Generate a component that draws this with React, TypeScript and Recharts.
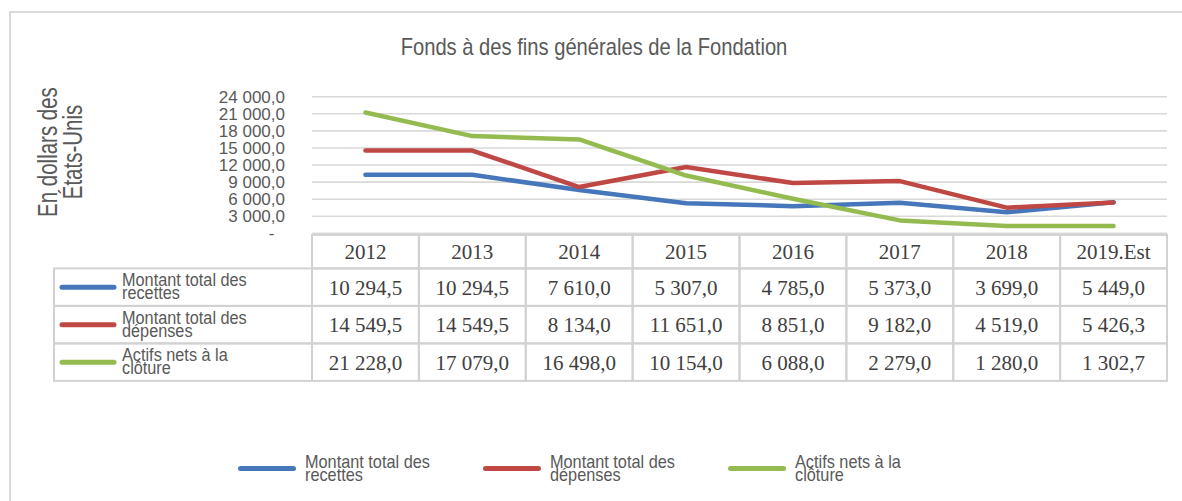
import { CartesianGrid, Legend, Line, LineChart, XAxis, YAxis } from "recharts";

const years = ["2012", "2013", "2014", "2015", "2016", "2017", "2018", "2019.Est"];
const recettes = [10294.5, 10294.5, 7610, 5307, 4785, 5373, 3699, 5449];
const depenses = [14549.5, 14549.5, 8134, 11651, 8851, 9182, 4519, 5426.3];
const actifs = [21228, 17079, 16498, 10154, 6088, 2279, 1280, 1302.7];

const seriesKeys = ["recettes", "depenses", "actifs"];
const seriesNames = [
  "Montant total des recettes",
  "Montant total des dépenses",
  "Actifs nets à la clôture",
];
const seriesColors = ["#4677BB", "#BF4845", "#94BB50"];
const seriesValues = [recettes, depenses, actifs];

const yTicks = [0, 3000, 6000, 9000, 12000, 15000, 18000, 21000, 24000];

const title = "Fonds à des fins générales de la Fondation";
const yLabel = ["En dollars des", "États-Unis"];

const data = years.map((year, i) => ({
  year,
  recettes: recettes[i],
  depenses: depenses[i],
  actifs: actifs[i],
}));

const W = 1182;
const H = 501;
const PLOT_LEFT = 312;
const PLOT_RIGHT = 1167;
const COL_W = (PLOT_RIGHT - PLOT_LEFT) / years.length;
const SANS = '"Liberation Sans", Arial, sans-serif';
const SERIF = '"Liberation Serif", "Times New Roman", serif';
const GRID = "#d9d9d9";
const BORDER = "#d2d2d2";
const TEXT = "#595959";
const NUM = "#404040";

// 10294.5 -> "10 294,5"
function fmtFr(v: number, sep = "\u00a0") {
  const [int, dec] = v.toFixed(1).split(".");
  return int.replace(/\B(?=(\d{3})+(?!\d))/g, sep) + "," + dec;
}

// "Montant total des recettes" -> ["Montant total des", "recettes"]
function wrapName(name: string) {
  const k = name.lastIndexOf(" ");
  return [name.slice(0, k), name.slice(k + 1)];
}

function YTick(props: any) {
  const { x, y, payload } = props;
  const v = payload.value;
  if (v === 0) {
    return (
      <text x={x - 13.5} y={y + 6} textAnchor="middle" fontSize={17} fontFamily={SANS} fill={TEXT}>
        -
      </text>
    );
  }
  return (
    <text x={x} y={y + 6} textAnchor="end" fontSize={17} fontFamily={SANS} fill={TEXT}>
      {fmtFr(v, " ")}
    </text>
  );
}

function YLabel(props: any) {
  const vb = props.viewBox || { x: 0, y: 96.7, height: 136.7 };
  const cy = vb.y + vb.height / 2 - 13;
  return (
    <text
      transform={`translate(${vb.x + 57},${cy}) rotate(-90) scale(0.745,1)`}
      textAnchor="middle"
      fontSize={27.5}
      fontFamily={SANS}
      fill={TEXT}
    >
      <tspan x={0} y={0}>{yLabel[0]}</tspan>
      <tspan x={0} y={25}>{yLabel[1]}</tspan>
    </text>
  );
}

const HEAD_H = 33.5;
const ROW_H = 37.5;

function LegendLabel({ x, y, name }: { x: number; y: number; name: string }) {
  const [a, b] = wrapName(name);
  return (
    <text
      transform={`translate(${x},${y}) scale(0.88,1)`}
      fontSize={18.5}
      fontFamily={SANS}
      fill={TEXT}
    >
      <tspan x={0} y={0}>{a}</tspan>
      <tspan x={0} y={13}>{b}</tspan>
    </text>
  );
}

// each x tick draws one column of the data table under the plot
function TableColumn(props: any) {
  const { x, y, payload } = props;
  const i = props.index ?? payload.index ?? years.indexOf(payload.value);
  const left = x - COL_W / 2;
  const top = y + 1.5;
  const rowsTop = top + HEAD_H;
  return (
    <g>
      <rect x={left} y={top} width={COL_W} height={HEAD_H} fill="none" stroke={BORDER} strokeWidth={2} />
      <text x={x} y={top + 24} textAnchor="middle" fontSize={21} fontFamily={SERIF} fill={NUM}>
        {payload.value}
      </text>
      {seriesValues.map((vals, r) => {
        const ry = rowsTop + r * ROW_H;
        return (
          <g key={r}>
            <rect x={left} y={ry} width={COL_W} height={ROW_H} fill="none" stroke={BORDER} strokeWidth={2} />
            <text
              x={x}
              y={ry + ROW_H / 2 + 7.5}
              textAnchor="middle"
              fontSize={21}
              fontFamily={SERIF}
              fill={NUM}
            >
              {fmtFr(vals[i])}
            </text>
          </g>
        );
      })}
      {i === 0 &&
        seriesNames.map((name, r) => {
          const ry = rowsTop + r * ROW_H;
          const lx = left - 258;
          const cy = ry + ROW_H / 2;
          return (
            <g key={"lg" + r}>
              <rect x={lx} y={ry} width={258} height={ROW_H} fill="none" stroke={BORDER} strokeWidth={2} />
              <line
                x1={lx + 8}
                x2={lx + 60}
                y1={cy}
                y2={cy}
                stroke={seriesColors[r]}
                strokeWidth={5}
                strokeLinecap="round"
              />
              <LegendLabel x={lx + 68} y={cy - 1} name={name} />
            </g>
          );
        })}
    </g>
  );
}

function BottomLegend(props: any) {
  const payload = [...(props.payload || [])].sort(
    (p: any, q: any) => seriesNames.indexOf(String(p.value)) - seriesNames.indexOf(String(q.value))
  );
  return (
    <div style={{ display: "flex", fontFamily: SANS }}>
      {payload.map((p: any) => {
        const [a, b] = wrapName(String(p.value));
        return (
          <div key={p.value} style={{ width: 245, display: "flex", alignItems: "center" }}>
            <span
              style={{
                display: "inline-block",
                width: 58,
                height: 5,
                borderRadius: 3,
                background: p.color,
                marginRight: 9,
              }}
            />
            <div
              style={{
                fontSize: 18.5,
                lineHeight: "13px",
                color: TEXT,
                transform: "scaleX(0.88)",
                transformOrigin: "left center",
                whiteSpace: "nowrap",
              }}
            >
              <div>{a}</div>
              <div>{b}</div>
            </div>
          </div>
        );
      })}
    </div>
  );
}

export default function App() {
  return (
    <div style={{ position: "absolute", left: 0, top: 0, width: W, height: H, background: "#fff" }}>
      <div
        style={{
          position: "absolute",
          left: 9,
          top: 11,
          right: 0,
          bottom: 0,
          borderLeft: `2px solid ${GRID}`,
          borderTop: `2px solid ${GRID}`,
        }}
      />
      <div
        style={{
          position: "absolute",
          left: 594,
          top: 33,
          transform: "translateX(-50%) scaleX(0.84)",
          fontFamily: SANS,
          fontSize: 24,
          lineHeight: "28px",
          color: TEXT,
          whiteSpace: "nowrap",
        }}
      >
        {title}
      </div>
      <div style={{ position: "absolute", left: 0, top: 0 }}>
        <LineChart
          width={W}
          height={H}
          data={data}
          margin={{ top: 96.7, right: W - PLOT_RIGHT, bottom: 119.6, left: 0 }}
        >
          <CartesianGrid vertical={false} stroke={GRID} strokeWidth={1.6} />
          <XAxis
            dataKey="year"
            height={148}
            padding={{ left: COL_W / 2, right: COL_W / 2 }}
            axisLine={false}
            tickLine={false}
            tickSize={0}
            tickMargin={0}
            interval={0}
            tick={(p: any) => <TableColumn {...p} />}
          />
          <YAxis
            width={PLOT_LEFT}
            domain={[0, 24000]}
            ticks={yTicks}
            interval={0}
            axisLine={false}
            tickLine={false}
            tickSize={0}
            tickMargin={27}
            tick={(p: any) => <YTick {...p} />}
            label={(p: any) => <YLabel {...p} />}
          />
          <Legend
            layout="horizontal"
            verticalAlign="middle"
            align="center"
            content={(p: any) => <BottomLegend {...p} />}
            wrapperStyle={{ position: "absolute", left: 238, top: 455, width: 760 }}
          />
          {seriesKeys.map((k, s) => (
            <Line
              key={k}
              dataKey={k}
              name={seriesNames[s]}
              stroke={seriesColors[s]}
              strokeWidth={4.5}
              strokeLinecap="round"
              strokeLinejoin="round"
              dot={false}
              activeDot={false}
              isAnimationActive={false}
            />
          ))}
        </LineChart>
      </div>
    </div>
  );
}
